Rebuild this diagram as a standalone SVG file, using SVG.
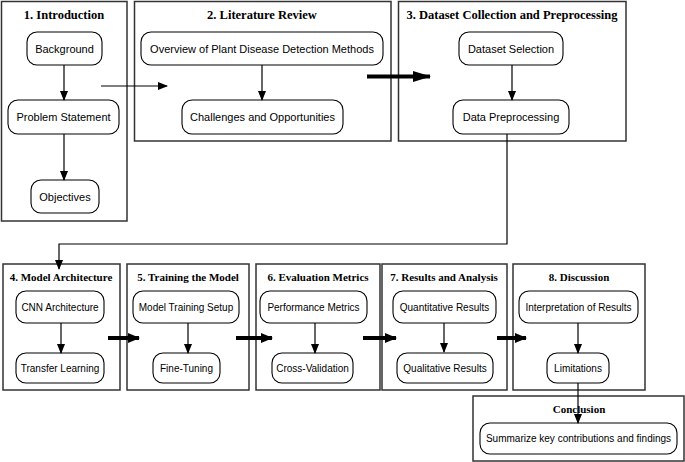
<svg xmlns="http://www.w3.org/2000/svg" width="685" height="462" viewBox="0 0 685 462">
<defs>
<marker id="ah" markerWidth="10" markerHeight="8" refX="9" refY="4" orient="auto" markerUnits="userSpaceOnUse"><path d="M0,0 L10,4 L0,8 Z" fill="#000"/></marker>
<marker id="ahb" markerWidth="18" markerHeight="11" refX="17" refY="5.5" orient="auto" markerUnits="userSpaceOnUse"><path d="M0,0 L18,5.5 L0,11 Z" fill="#000"/></marker>
<marker id="ahs" markerWidth="12" markerHeight="10" refX="11" refY="5" orient="auto" markerUnits="userSpaceOnUse"><path d="M0,0 L12,5 L0,10 Z" fill="#000"/></marker>
</defs>
<style>
.cl{fill:#fff;stroke:#333;stroke-width:1.5}
.nd{fill:#fff;stroke:#000;stroke-width:1.1}
.tt{font-family:"Liberation Serif",serif;font-weight:bold;font-size:12.5px;fill:#000;text-anchor:middle}
.ts{font-family:"Liberation Serif",serif;font-weight:bold;font-size:11px;fill:#000;text-anchor:middle}
.nt{font-family:"Liberation Sans",Arial,sans-serif;font-size:11px;fill:#000;text-anchor:middle}
.ns{font-family:"Liberation Sans",Arial,sans-serif;font-size:10px;fill:#000;text-anchor:middle}
.e{stroke:#000;stroke-width:1.2;fill:none;marker-end:url(#ah)}
.eb{stroke:#000;stroke-width:4;fill:none;marker-end:url(#ahb)}
.es{stroke:#000;stroke-width:4;fill:none;marker-end:url(#ahs)}
</style>
<rect width="685" height="462" fill="#fff"/>
<g id="cluster1"><rect class="cl" x="1.5" y="1.5" width="125.5" height="219.5"/><text class="tt" x="64" y="19">1. Introduction</text></g>
<g id="cluster2"><rect class="cl" x="134.5" y="1.5" width="256.5" height="139.5"/><text class="tt" x="262" y="19">2. Literature Review</text></g>
<g id="cluster3"><rect class="cl" x="398.5" y="1.5" width="227.5" height="139.5"/><text class="tt" x="512" y="19">3. Dataset Collection and Preprocessing</text></g>
<g id="cluster4"><rect class="cl" x="3" y="264" width="117" height="126"/><text class="ts" x="61" y="281">4. Model Architecture</text></g>
<g id="cluster5"><rect class="cl" x="127" y="264" width="122" height="126"/><text class="ts" x="188" y="281">5. Training the Model</text></g>
<g id="cluster6"><rect class="cl" x="256" y="264" width="124" height="126"/><text class="ts" x="318" y="281">6. Evaluation Metrics</text></g>
<g id="cluster7"><rect class="cl" x="382" y="264" width="125" height="126"/><text class="ts" x="444" y="281">7. Results and Analysis</text></g>
<g id="cluster8"><rect class="cl" x="513" y="264" width="132" height="126"/><text class="ts" x="579" y="281">8. Discussion</text></g>
<g id="cluster9"><rect class="cl" x="473" y="396" width="211" height="65"/><text class="ts" x="579" y="413">Conclusion</text></g>

<g id="background"><rect class="nd" x="27" y="32" width="75" height="33" rx="10"/><text class="nt" x="64.5" y="53">Background</text></g>
<g id="problem"><rect class="nd" x="8" y="100" width="111" height="34" rx="10"/><text class="nt" x="63.5" y="121">Problem Statement</text></g>
<g id="objectives"><rect class="nd" x="31" y="180" width="68" height="33" rx="10"/><text class="nt" x="65" y="200.5">Objectives</text></g>
<g id="overview"><rect class="nd" x="141" y="32" width="242" height="33" rx="10"/><text class="nt" x="262" y="53">Overview of Plant Disease Detection Methods</text></g>
<g id="challenges"><rect class="nd" x="182" y="100" width="161" height="34" rx="10"/><text class="nt" x="262.5" y="121">Challenges and Opportunities</text></g>
<g id="dataset"><rect class="nd" x="459" y="32" width="104" height="33" rx="10"/><text class="nt" x="511" y="53">Dataset Selection</text></g>
<g id="preproc"><rect class="nd" x="453" y="100" width="116" height="34" rx="10"/><text class="nt" x="511" y="121">Data Preprocessing</text></g>
<g id="cnn"><rect class="nd" x="16" y="291" width="88" height="32" rx="10"/><text class="ns" x="60" y="310.5">CNN Architecture</text></g>
<g id="transfer"><rect class="nd" x="16" y="353" width="88" height="30" rx="10"/><text class="ns" x="60" y="371.5">Transfer Learning</text></g>
<g id="setup"><rect class="nd" x="133" y="291" width="106" height="32" rx="10"/><text class="ns" x="186" y="310.5">Model Training Setup</text></g>
<g id="finetune"><rect class="nd" x="153" y="353" width="67" height="30" rx="10"/><text class="ns" x="186.5" y="371.5">Fine-Tuning</text></g>
<g id="perf"><rect class="nd" x="260" y="291" width="107" height="32" rx="10"/><text class="ns" x="313.5" y="310.5">Performance Metrics</text></g>
<g id="crossval"><rect class="nd" x="272" y="353" width="81" height="30" rx="10"/><text class="ns" x="312.5" y="371.5">Cross-Validation</text></g>
<g id="quant"><rect class="nd" x="393" y="291" width="103" height="32" rx="10"/><text class="ns" x="444.5" y="310.5">Quantitative Results</text></g>
<g id="qual"><rect class="nd" x="397" y="353" width="96" height="30" rx="10"/><text class="ns" x="445" y="371.5">Qualitative Results</text></g>
<g id="interp"><rect class="nd" x="519" y="291" width="119" height="32" rx="10"/><text class="ns" x="578.5" y="310.5">Interpretation of Results</text></g>
<g id="limits"><rect class="nd" x="547" y="353" width="62" height="30" rx="10"/><text class="ns" x="578" y="371.5">Limitations</text></g>
<g id="summary"><rect class="nd" x="480" y="423" width="197" height="31" rx="10"/><text class="ns" x="578.5" y="442">Summarize key contributions and findings</text></g>

<g id="connectors">
<line class="e" x1="64" y1="65" x2="64" y2="100"/>
<line class="e" x1="64" y1="134" x2="64" y2="180"/>
<line class="e" x1="262" y1="65" x2="262" y2="100"/>
<line class="e" x1="512" y1="65" x2="512" y2="100"/>
<line class="e" x1="101" y1="86" x2="167" y2="86"/>
<line class="eb" x1="367" y1="76.5" x2="430" y2="76.5"/>
<polyline class="e" points="507,134 507,244 59,244 59,269"/>
<line class="e" x1="61" y1="323" x2="61" y2="353"/>
<line class="e" x1="188" y1="323" x2="188" y2="353"/>
<line class="e" x1="315" y1="323" x2="315" y2="353"/>
<line class="e" x1="444" y1="323" x2="444" y2="352"/>
<line class="e" x1="578" y1="323" x2="578" y2="353"/>
<line class="e" x1="578" y1="383" x2="578" y2="423"/>
<line class="es" x1="108" y1="338" x2="139" y2="338"/>
<line class="es" x1="236" y1="338" x2="272" y2="338"/>
<line class="es" x1="363" y1="338" x2="396" y2="338"/>
<line class="es" x1="497" y1="338" x2="526" y2="338"/>
</g>
</svg>
